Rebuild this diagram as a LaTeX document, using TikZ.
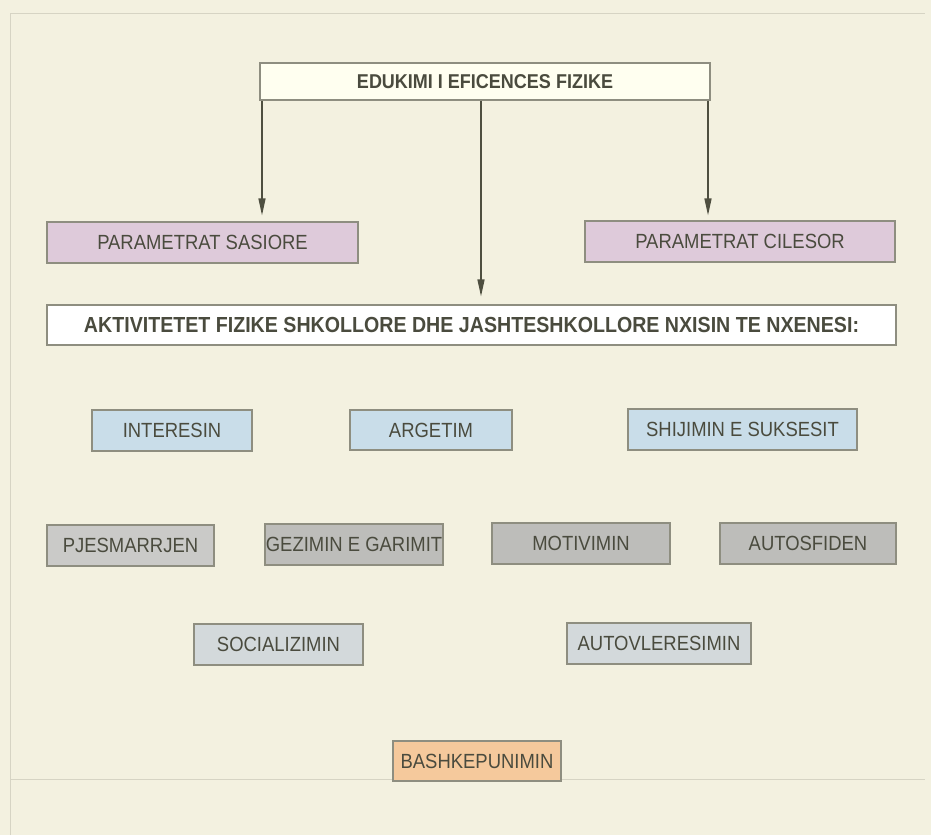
\documentclass[tikz,border=0pt]{standalone}
\usepackage{fontspec}
\setmainfont{Liberation Sans}[FakeStretch=0.9]
\usetikzlibrary{arrows.meta}
\definecolor{bgcream}{HTML}{F3F1E0}
\definecolor{frameln}{HTML}{D6D4C4}
\definecolor{txt}{HTML}{4A4B3E}
\definecolor{boxln}{HTML}{8E8E80}
\definecolor{topfill}{HTML}{FFFFF0}
\definecolor{pinkfill}{HTML}{DECADA}
\definecolor{bluefill}{HTML}{C9DDE9}
\definecolor{greyfill}{HTML}{BDBDBA}
\definecolor{lgreyfill}{HTML}{D3D9DB}
\definecolor{orangefill}{HTML}{F5C99C}
\definecolor{arrowln}{HTML}{4E4F40}
\tikzset{
  box/.style={draw=boxln, line width=1.2pt, inner sep=0pt, text=txt, font=\fontsize{20.5}{23}\selectfont},
  conn/.style={draw=arrowln, line width=1.4pt, -{Triangle[length=17pt,width=7pt]}},
}
\begin{document}
\begin{tikzpicture}[x=1pt,y=-1pt]
\fill[bgcream] (0,0) rectangle (931,835);
\useasboundingbox (0,0) rectangle (931,835);
\draw[frameln, line width=0.8pt] (10,835) -- (10,13) -- (925,13);
\draw[frameln, line width=0.8pt] (10,779) -- (925,779);
% top box
\node[box, fill=topfill, minimum width=450pt, minimum height=37pt, font=\fontsize{20}{22}\selectfont\bfseries] (top) at (485,81.5) {EDUKIMI I EFICENCES FIZIKE};
\node[box, fill=pinkfill, minimum width=311pt, minimum height=41pt] (sas) at (202.5,242.5) {PARAMETRAT SASIORE};
\node[box, fill=pinkfill, minimum width=310pt, minimum height=41pt] (cil) at (740,241.5) {PARAMETRAT CILESOR};
\node[box, fill=white, minimum width=849pt, minimum height=40pt, font=\fontsize{21.8}{24}\selectfont\bfseries] (akt) at (471.5,325) {AKTIVITETET FIZIKE SHKOLLORE DHE JASHTESHKOLLORE NXISIN TE NXENESI:};
% row 1
\node[box, fill=bluefill, minimum width=160pt, minimum height=41pt] (int) at (172,430.5) {INTERESIN};
\node[box, fill=bluefill, minimum width=162pt, minimum height=40pt] (arg) at (431,430) {ARGETIM};
\node[box, fill=bluefill, minimum width=229pt, minimum height=41pt] (shi) at (742.5,429.5) {SHIJIMIN E SUKSESIT};
% row 2
\node[box, fill=greyfill!80!white, minimum width=167pt, minimum height=41pt] (pje) at (130.5,545.5) {PJESMARRJEN};
\node[box, fill=greyfill, minimum width=178pt, minimum height=41pt] (gez) at (354,544.5) {GEZIMIN E GARIMIT};
\node[box, fill=greyfill, minimum width=178pt, minimum height=41pt] (mot) at (581,543.5) {MOTIVIMIN};
\node[box, fill=greyfill, minimum width=176pt, minimum height=41pt] (aut) at (808,543.5) {AUTOSFIDEN};
% row 3
\node[box, fill=lgreyfill, minimum width=169pt, minimum height=41pt] (soc) at (278.5,644.5) {SOCIALIZIMIN};
\node[box, fill=lgreyfill, minimum width=184pt, minimum height=41pt] (avl) at (659,643.5) {AUTOVLERESIMIN};
% row 4
\node[box, fill=orangefill, minimum width=168pt, minimum height=40pt] (bas) at (477,761) {BASHKEPUNIMIN};
% connectors
\draw[conn] ([xshift=2.6pt]top.south west) -- ([xshift=2.6pt,yshift=6pt]top.south west |- sas.north);
\draw[conn] ([xshift=-4pt]top.south) -- ([xshift=-4pt,yshift=8pt]top.south |- akt.north);
\draw[conn] ([xshift=-2.6pt]top.south east) -- ([xshift=-2.6pt,yshift=5pt]top.south east |- cil.north);
\end{tikzpicture}
\end{document}
